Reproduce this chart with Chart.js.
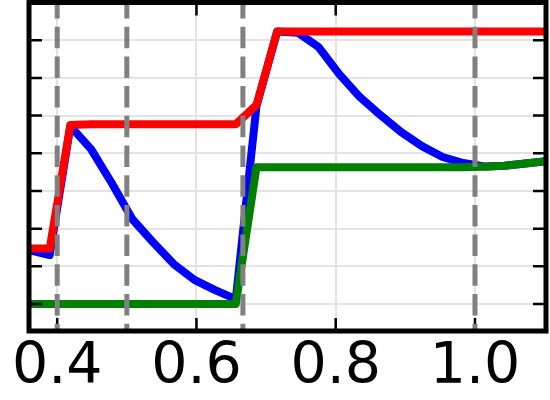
<!DOCTYPE html>
<html>
<head>
<meta charset="utf-8">
<script src="https://cdn.jsdelivr.net/npm/chart.js@4"></script>
<style>
  body { margin: 0; background: #fff; }
</style>
</head>
<body>
<canvas id="chart" width="550" height="400"></canvas>
<script>
// sample positions along x
const xValues = [0.3595, 0.3892, 0.4189, 0.4486, 0.4783, 0.5080, 0.5377, 0.5674, 0.5971, 0.6268,
                 0.6565, 0.6862, 0.7159, 0.7456, 0.7753, 0.8050, 0.8347, 0.8644, 0.8941, 0.9238,
                 0.9535, 0.9832, 1.0129, 1.0426, 1.0723, 1.1020];

const redValues = [1.47, 1.47, 4.75, 4.77, 4.77, 4.77, 4.77, 4.77, 4.77, 4.77,
                   4.77, 5.28, 7.23, 7.23, 7.23, 7.23, 7.23, 7.23, 7.23, 7.23,
                   7.23, 7.23, 7.23, 7.23, 7.23, 7.23];
const blueValues = [1.43, 1.30, 4.72, 4.11, 3.21, 2.25, 1.64, 1.06, 0.64, 0.37,
                    0.13, 5.25, 7.23, 7.20, 6.82, 6.10, 5.49, 5.01, 4.56, 4.19,
                    3.90, 3.74, 3.65, 3.67, 3.73, 3.79];
const greenValues = [0, 0, 0, 0, 0, 0, 0, 0, 0, 0,
                     0, 3.63, 3.63, 3.63, 3.63, 3.63, 3.63, 3.63, 3.63, 3.63,
                     3.63, 3.63, 3.64, 3.67, 3.73, 3.79];

const xTicks = [0.4, 0.6, 0.8, 1.0];
const yTicks = [0, 1, 2, 3, 4, 5, 6, 7, 8];
const markers = [0.4, 0.5, 0.6667, 1.0];

const toPoints = vals => vals.map((v, i) => ({ x: xValues[i], y: v }));

// inward ticks, dashed markers and the frame, drawn over the lines
const frame = {
    id: 'frame',
    afterDatasetsDraw(chart) {
        const { ctx, chartArea: a, scales: { x, y } } = chart;
        ctx.save();
        ctx.strokeStyle = '#000';
        ctx.lineWidth = 2.5;
        ctx.beginPath();
        xTicks.forEach(v => {
            const px = x.getPixelForValue(v);
            ctx.moveTo(px, a.bottom); ctx.lineTo(px, a.bottom - 13);
            ctx.moveTo(px, a.top); ctx.lineTo(px, a.top + 13);
        });
        yTicks.forEach(v => {
            const py = y.getPixelForValue(v);
            ctx.moveTo(a.left, py); ctx.lineTo(a.left + 13, py);
            ctx.moveTo(a.right, py); ctx.lineTo(a.right - 13, py);
        });
        ctx.stroke();

        ctx.strokeStyle = '#808080';
        ctx.lineWidth = 5;
        ctx.setLineDash([21.5, 8.2]);
        ctx.lineDashOffset = 5.5;
        markers.forEach(v => {
            const px = x.getPixelForValue(v);
            ctx.beginPath();
            ctx.moveTo(px, a.top);
            ctx.lineTo(px, a.bottom);
            ctx.stroke();
        });
        ctx.setLineDash([]);

        ctx.strokeStyle = '#000';
        ctx.lineWidth = 5;
        ctx.strokeRect(a.left, a.top, a.right - a.left, a.bottom - a.top);
        ctx.restore();
    }
};

const line = (vals, color) => ({
    data: toPoints(vals),
    borderColor: color,
    borderWidth: 8,
    borderJoinStyle: 'round',
    pointRadius: 0,
    tension: 0,
    fill: false,
    clip: 0
});

new Chart(document.getElementById('chart').getContext('2d'), {
    type: 'line',
    data: {
        datasets: [
            line(redValues, '#ff0000'),
            line(greenValues, '#008000'),
            line(blueValues, '#0000ff')
        ]
    },
    options: {
        responsive: false,
        animation: false,
        devicePixelRatio: 1,
        layout: { padding: { top: 2.5, right: 4, left: 0, bottom: 0 } },
        plugins: { legend: { display: false }, tooltip: { enabled: false } },
        scales: {
            x: {
                type: 'linear',
                min: 0.3595,
                max: 1.102,
                afterBuildTicks: s => { s.ticks = xTicks.map(v => ({ value: v })); },
                afterFit: s => { s.height = 69; },
                grid: { color: '#e3e3e3', lineWidth: 2, drawTicks: false },
                border: { display: false },
                ticks: {
                    autoSkip: false,
                    maxRotation: 0,
                    padding: 3,
                    color: '#000',
                    font: { family: 'DejaVu Sans', size: 57 },
                    callback: v => v.toFixed(1)
                }
            },
            y: {
                type: 'linear',
                min: -0.716,
                max: 8,
                afterBuildTicks: s => { s.ticks = yTicks.map(v => ({ value: v })); },
                afterFit: s => { s.width = 29; },
                grid: { color: '#e3e3e3', lineWidth: 2, drawTicks: false },
                border: { display: false },
                ticks: { display: false }
            }
        }
    },
    plugins: [frame]
});
</script>
</body>
</html>
